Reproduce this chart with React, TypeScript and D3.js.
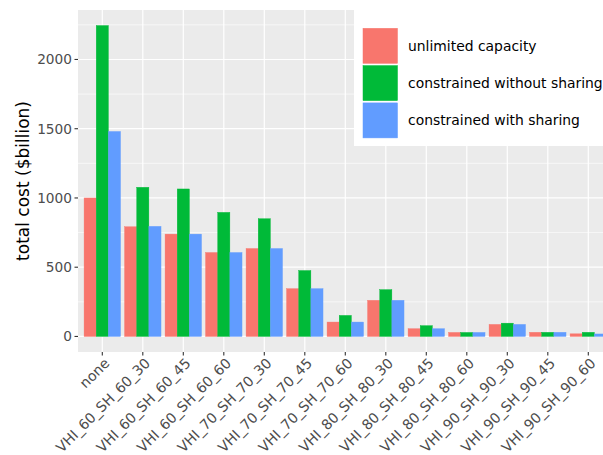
import React from "react";
import * as d3 from "d3";

const categories = [
  "none",
  "VHI_60_SH_60_30",
  "VHI_60_SH_60_45",
  "VHI_60_SH_60_60",
  "VHI_70_SH_70_30",
  "VHI_70_SH_70_45",
  "VHI_70_SH_70_60",
  "VHI_80_SH_80_30",
  "VHI_80_SH_80_45",
  "VHI_80_SH_80_60",
  "VHI_90_SH_90_30",
  "VHI_90_SH_90_45",
  "VHI_90_SH_90_60",
];

const seriesNames = [
  "unlimited capacity",
  "constrained without sharing",
  "constrained with sharing",
];

const unlimitedCapacity = [1000, 792, 739, 606, 635, 345, 104, 261, 56, 29, 87, 30, 19];
const constrainedWithoutSharing = [2245, 1077, 1065, 896, 850, 476, 152, 338, 78, 29, 96, 30, 30];
const constrainedWithSharing = [1480, 795, 739, 606, 635, 345, 104, 261, 56, 29, 87, 30, 18];

const seriesValues = [unlimitedCapacity, constrainedWithoutSharing, constrainedWithSharing];
const seriesColors = ["#F8766D", "#00BA38", "#619CFF"];

const yTicks = [0, 500, 1000, 1500, 2000];
const yMinorTicks = [250, 750, 1250, 1750, 2250];

const W = 603;
const H = 455;
const panelLeft = 78;
const panelTop = 10;
const panelBottom = 352;
const step = 40.5;

export default function App() {
  const n = categories.length;
  const panelRight = panelLeft + step * (n - 1 + 1.2);
  const x = d3
    .scaleLinear()
    .domain([-0.6, n - 1 + 0.6])
    .range([panelLeft, panelRight]);
  const maxV = d3.max(seriesValues.flat()) as number;
  const y = d3
    .scaleLinear()
    .domain([-0.05 * maxV, maxV * 1.05])
    .range([panelBottom, panelTop]);
  const barW = 0.3;
  const font = "DejaVu Sans, sans-serif";

  return (
    <svg
      width={W}
      height={H}
      style={{ position: "absolute", left: 0, top: 0, background: "#fff" }}
      fontFamily={font}
    >
      <defs>
        <clipPath id="panelClip">
          <rect x={panelLeft} y={panelTop} width={panelRight - panelLeft} height={panelBottom - panelTop} />
        </clipPath>
      </defs>
      <rect
        x={panelLeft}
        y={panelTop}
        width={panelRight - panelLeft}
        height={panelBottom - panelTop}
        fill="#EBEBEB"
      />
      <g clipPath="url(#panelClip)">
        {yMinorTicks.map((t) => (
          <line
            key={"mn" + t}
            x1={panelLeft}
            x2={panelRight}
            y1={y(t)}
            y2={y(t)}
            stroke="#fff"
            strokeWidth={0.6}
          />
        ))}
        {yTicks.map((t) => (
          <line
            key={"mj" + t}
            x1={panelLeft}
            x2={panelRight}
            y1={y(t)}
            y2={y(t)}
            stroke="#fff"
            strokeWidth={1.2}
          />
        ))}
        {categories.map((c, i) => (
          <line
            key={"vx" + c}
            x1={x(i)}
            x2={x(i)}
            y1={panelTop}
            y2={panelBottom}
            stroke="#fff"
            strokeWidth={1.2}
          />
        ))}
        {seriesValues.map((vals, s) =>
          vals.map((v, i) => {
            const x0 = x(i - 0.45 + s * barW);
            const x1 = x(i - 0.45 + (s + 1) * barW);
            return (
              <rect
                key={s + "-" + i}
                x={x0}
                y={y(v)}
                width={x1 - x0}
                height={y(0) - y(v)}
                fill={seriesColors[s]}
                stroke={seriesColors[s]}
                strokeWidth={0.4}
              />
            );
          })
        )}
      </g>
      {/* y axis */}
      {yTicks.map((t) => (
        <g key={"yt" + t}>
          <line x1={panelLeft - 3.5} x2={panelLeft} y1={y(t)} y2={y(t)} stroke="#333" strokeWidth={1.1} />
          <text
            x={panelLeft - 6}
            y={y(t)}
            dy="0.36em"
            textAnchor="end"
            fontSize={13.7}
            fill="#4D4D4D"
          >
            {t}
          </text>
        </g>
      ))}
      <text
        transform={`translate(29, ${(panelTop + panelBottom) / 2}) rotate(-90)`}
        textAnchor="middle"
        fontSize={17}
        fill="#000"
      >
        total cost ($billion)
      </text>
      {/* x axis */}
      {categories.map((c, i) => (
        <g key={"xt" + c}>
          <line x1={x(i)} x2={x(i)} y1={panelBottom} y2={panelBottom + 3.5} stroke="#333" strokeWidth={1.1} />
          <text
            transform={`translate(${x(i) + 1}, ${panelBottom + 5}) rotate(-45)`}
            textAnchor="end"
            dy="0.72em"
            fontSize={14.1}
            fill="#4D4D4D"
          >
            {c}
          </text>
        </g>
      ))}
      {/* legend */}
      <rect x={354} y={panelTop} width={260} height={136} fill="#fff" />
      {seriesNames.map((name, s) => {
        const ky = 28.3 + s * 37.3;
        return (
          <g key={"lg" + s}>
            <rect
              x={363}
              y={ky}
              width={34.5}
              height={35}
              fill={seriesColors[s]}
              stroke={seriesColors[s]}
              strokeWidth={0.5}
            />
            <text x={408} y={ky + 17.5} dy="0.36em" fontSize={13.9} fill="#000">
              {name}
            </text>
          </g>
        );
      })}
    </svg>
  );
}
